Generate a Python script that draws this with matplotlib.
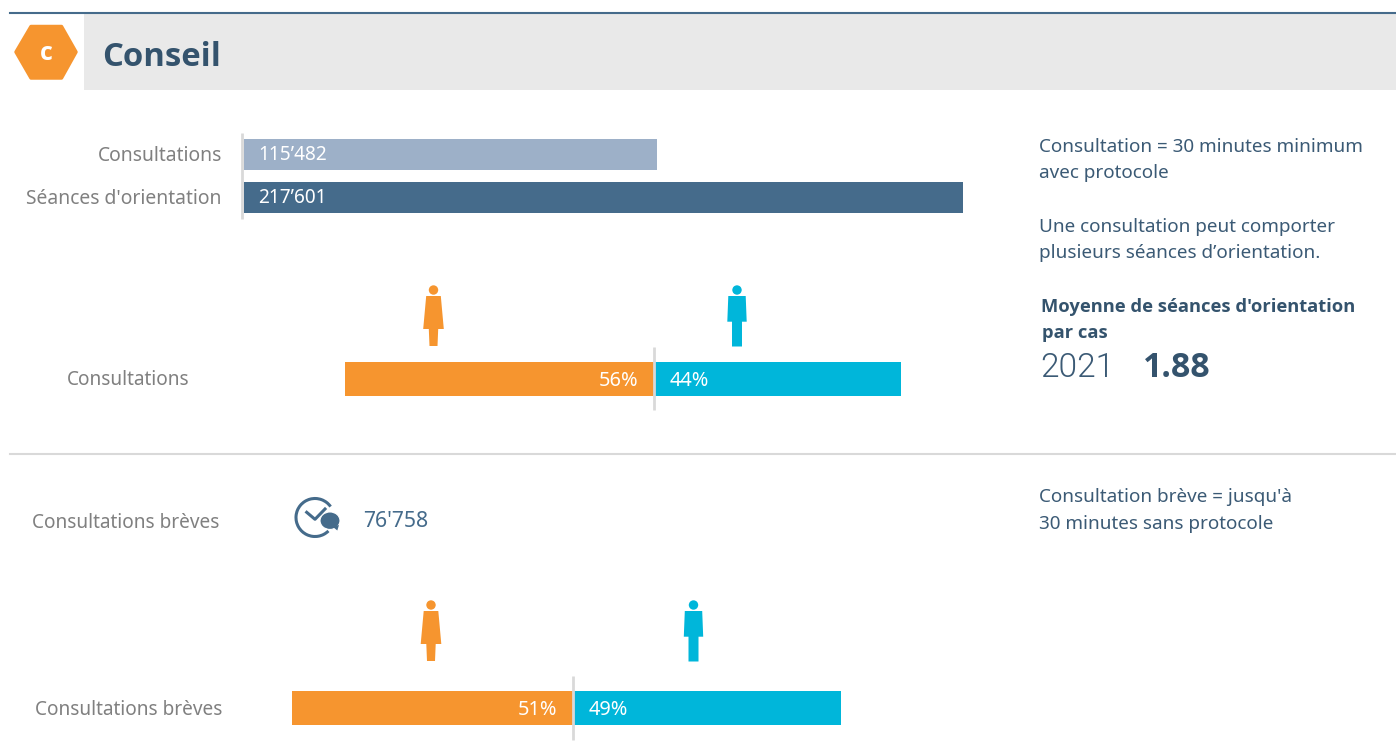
# Conseil - consultations overview
import matplotlib
matplotlib.use('Agg')
import matplotlib.pyplot as plt
from matplotlib.patches import Polygon, Rectangle, Circle, Arc, Ellipse

plt.rcParams['font.family'] = ['Noto Sans', 'DejaVu Sans']

# Data
volume_labels = ['Consultations', "Séances d'orientation"]
volume_texts = ['115’482', '217’601']
volume_lengths = [125000, 217601]
volume_colors = ['#9db0c8', '#456b8b']

gender_consult = [56, 44]
gender_brief = [51, 49]
brief_total = "76'758"
average_year = '2021'
average_value = '1.88'

ORANGE = '#f6952f'
CYAN = '#00b6da'
GRAY = '#808080'
BLUE = '#3b5a75'
DARK = '#34536d'
RULE = '#d9d9d9'

W, H = 1396, 755
fig = plt.figure(figsize=(W / 100, H / 100), dpi=100)

# background axes in pixels, for everything around the bars
bg = fig.add_axes([0, 0, 1, 1])
bg.set_xlim(0, W)
bg.set_ylim(H, 0)
bg.axis('off')


def sub_axes(x0, x1, y0, y1):
    ax = fig.add_axes([x0 / W, 1 - y1 / H, (x1 - x0) / W, (y1 - y0) / H])
    ax.axis('off')
    return ax


def person(cx, top, color, female):
    # little pictogram, 61 px high
    bg.add_patch(Circle((cx, top + 5), 4.7, color=color, lw=0))
    if female:
        pts = [(-7.3, 11), (7.3, 11), (10.3, 44), (4.7, 44), (4, 61), (-4, 61), (-4.7, 44), (-10.3, 44)]
    else:
        pts = [(-8.7, 11), (8.7, 11), (9.7, 36.7), (5, 36.7), (5, 61.5), (-5, 61.5), (-5, 36.7), (-9.7, 36.7)]
    bg.add_patch(Polygon([(cx + a, top + b) for a, b in pts], color=color, lw=0))


def gender_bar(values, x_left, x_split, x_right, y0, y1, rule0, rule1, label, label_x, label_y):
    # each side has its own axes so that the bar ends and the split sit where they do in the source
    left = sub_axes(x_left, x_split, y0, y1)
    left.set_xlim(-values[0], 0)
    left.set_ylim(0, 1)
    left.barh(0.5, -values[0], height=1, color=ORANGE)
    left.text(-values[0] * 16 / (x_split - x_left), 0.45, f'{values[0]}%', color='white', fontsize=14.4, ha='right', va='center')
    right = sub_axes(x_split, x_right, y0, y1)
    right.set_xlim(0, values[1])
    right.set_ylim(0, 1)
    right.barh(0.5, values[1], height=1, color=CYAN)
    right.text(values[1] * 15.5 / (x_right - x_split), 0.45, f'{values[1]}%', color='white', fontsize=14.4, ha='left', va='center')
    bg.text(label_x, label_y, label, color=GRAY, fontsize=13.7, ha='right', va='center')
    fig.add_artist(plt.Line2D([(x_split - 0.5) / W] * 2, [1 - rule0 / H, 1 - rule1 / H], color=RULE, lw=2, solid_capstyle='butt'))


# Header
bg.plot([10, W], [13, 13], color='#456b8b', lw=1.5)
bg.add_patch(Rectangle((84, 14), W - 84, 76, color='#e9e9e9', lw=0))
hexagon = [(16, 52), (31, 26.5), (61.5, 26.5), (76, 52), (61.5, 78), (31, 78)]
bg.add_patch(Polygon(hexagon, closed=True, facecolor=ORANGE, edgecolor=ORANGE, lw=2.5, joinstyle='round'))
bg.text(46, 53, 'c', color='white', fontsize=18, fontweight='bold', family='Open Sans', ha='center', va='center')
bg.text(102.5, 57, 'Conseil', color=DARK, fontsize=23.7, fontweight='bold', family='Open Sans', ha='left', va='center')

# Volume bars
ax1 = sub_axes(244, 963, 133, 219)
ax1.set_xlim(0, max(volume_lengths))
ax1.set_ylim(86, 0)
ax1.barh([21.5, 64.5], volume_lengths, height=31, color=volume_colors)
for y, txt in zip([21.5, 64.5], volume_texts):
    ax1.text(14.5 / 719 * max(volume_lengths), y + 0.5, txt, color='white', fontsize=13.7, ha='left', va='center')
for lab, y in zip(volume_labels, [156, 199]):
    bg.text(222, y, lab, color=GRAY, fontsize=13.9, ha='right', va='center')
bg.plot([242, 242], [133, 219], color=RULE, lw=2, solid_capstyle='butt')

# Gender split, consultations
person(433.5, 285, ORANGE, True)
person(737, 285, CYAN, False)
gender_bar(gender_consult, 345, 654.5, 901, 362, 396, 347, 410, 'Consultations', 189, 380)

# Separator
bg.plot([10, W], [454, 454], color=RULE, lw=1.5)

# Brief consultations
bg.text(219, 523, 'Consultations brèves', color=GRAY, fontsize=13.7, ha='right', va='center')
bg.add_patch(Arc((315, 517.5), 38, 38, theta1=45, theta2=360 - 35, color='#456b8b', lw=2.2))
bg.plot([306.7, 315, 325], [512.3, 519.3, 509], color='#456b8b', lw=2.2)
bg.add_patch(Ellipse((330, 520.7), 20, 17.5, facecolor='#456b8b', edgecolor='white', lw=0.8))
bg.add_patch(Polygon([(333, 527), (339, 525), (337.3, 530.5)], color='#456b8b', lw=0))
bg.text(363, 521.5, brief_total, color='#456b8b', fontsize=15.3, ha='left', va='center')

person(431, 600, ORANGE, True)
person(693.5, 600, CYAN, False)
gender_bar(gender_brief, 292, 573, 841, 691, 725, 676, 740, 'Consultations brèves', 222, 710)

# Notes on the right
for x, y, txt in [(1039, 147, 'Consultation = 30 minutes minimum'), (1039, 173, 'avec protocole'),
                  (1039, 227, 'Une consultation peut comporter'), (1039, 253, 'plusieurs séances d’orientation.'),
                  (1039, 497, "Consultation brève = jusqu'à"), (1039, 524, '30 minutes sans protocole')]:
    bg.text(x, y, txt, color=BLUE, fontsize=13.6, ha='left', va='center')
bg.text(1041, 307, "Moyenne de séances d'orientation", color=DARK, fontsize=13.2, fontweight='bold', family='Open Sans', ha='left', va='center')
bg.text(1042, 333, 'par cas', color=DARK, fontsize=13.2, fontweight='bold', family='Open Sans', ha='left', va='center')
bg.text(1040, 368, average_year, color=BLUE, fontsize=24, fontweight=300, family='Roboto', ha='left', va='center')
bg.text(1143, 368, average_value, color=DARK, fontsize=24.4, fontweight='bold', family='Open Sans', ha='left', va='center')

fig.savefig('out.png', dpi=100)
